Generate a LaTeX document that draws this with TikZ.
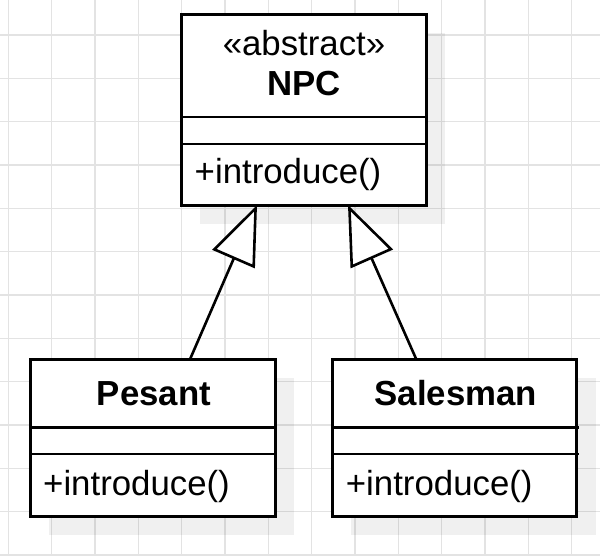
\documentclass[tikz,border=0pt]{standalone}
\usepackage{fontspec}
\setmainfont{Liberation Sans}
\usetikzlibrary{arrows.meta,calc}
\begin{document}
\begin{tikzpicture}[x=1pt,y=-1pt,
  gridline/.style={draw=black!11, line width=1.6pt},
  umlbox/.style={draw, line width=3pt, fill=white, inner sep=0pt, outer sep=0pt, anchor=north west},
  shadowbox/.style={fill=black, fill opacity=0.06, draw=none},
  divider/.style={line width=2.4pt},
  lbl/.style={inner sep=0pt, font=\fontsize{34.8}{40}\selectfont},
  lblb/.style={inner sep=0pt, font=\fontsize{34.8}{40}\selectfont\bfseries},
  inherit/.style={line width=2.6pt, -{Triangle[length=59pt, width=46pt, fill=white]}}
]
\fill[white] (0,0) rectangle (600,555);
\useasboundingbox (0,0) rectangle (600,555);
\foreach \i in {0,...,13} {
  \draw[gridline] ({8.333+43.333*\i},0) -- ({8.333+43.333*\i},555);
}
\foreach \i in {1,...,13} {
  \draw[gridline] (0,{-8.333+43.333*\i}) -- (600,{-8.333+43.333*\i});
}
% boxes
\node[umlbox, minimum width=245pt, minimum height=191pt] (npc) at (181,14) {};
\node[umlbox, minimum width=245pt, minimum height=156.7pt] (pesant) at (30,359.3) {};
\node[umlbox, minimum width=244.4pt, minimum height=156.7pt] (sales) at (332.3,359.3) {};
% shadows
\fill[shadowbox] ($(npc.south west)+(19,0)$) rectangle ($(npc.south east)+(19,19)$);
\fill[shadowbox] ($(npc.north east)+(0,19)$) rectangle ($(npc.south east)+(19,0)$);
\fill[shadowbox] ($(pesant.south west)+(19,0)$) rectangle ($(pesant.south east)+(19,19)$);
\fill[shadowbox] ($(pesant.north east)+(0,19)$) rectangle ($(pesant.south east)+(19,0)$);
\fill[shadowbox] ($(sales.south west)+(19,0)$) rectangle ($(sales.south east)+(19,19)$);
\fill[shadowbox] ($(sales.north east)+(0,19)$) rectangle ($(sales.south east)+(19,0)$);
% dividers
\draw[divider] ($(npc.north west)+(0,102.7)$) -- ($(npc.north east)+(2,102.7)$);
\draw[divider] ($(npc.north west)+(0,130)$) -- ($(npc.north east)+(2,130)$);
\draw[divider] ($(pesant.north west)+(0,68)$) -- ($(pesant.north east)+(2,68)$);
\draw[divider] ($(pesant.north west)+(0,94.7)$) -- ($(pesant.north east)+(2,94.7)$);
\draw[divider] ($(sales.north west)+(0,68)$) -- ($(sales.north east)+(2,68)$);
\draw[divider] ($(sales.north west)+(0,94.7)$) -- ($(sales.north east)+(2,94.7)$);
% texts
\node[lbl, anchor=base] (npcster) at (304,55) {«abstract»};
\node[lblb, anchor=base] (npcname) at (304,95) {NPC};
\node[lbl, anchor=base west] (npcop) at (194.5,183.3) {+introduce()};
\node[lblb, anchor=base] (pesname) at (154,405) {Pesant};
\node[lblb, anchor=base] (salname) at (456,405) {Salesman};
\node[lbl, anchor=base west] (pesop) at (43,495) {+introduce()};
\node[lbl, anchor=base west] (salop) at (345.7,495) {+introduce()};
% inheritance
\draw[inherit] ($(pesant.north west)+(160,0)$) -- ($(npc.south west)+(76,0)$);
\draw[inherit] ($(sales.north west)+(84,0)$) -- ($(npc.south west)+(167,0)$);
\end{tikzpicture}
\end{document}
